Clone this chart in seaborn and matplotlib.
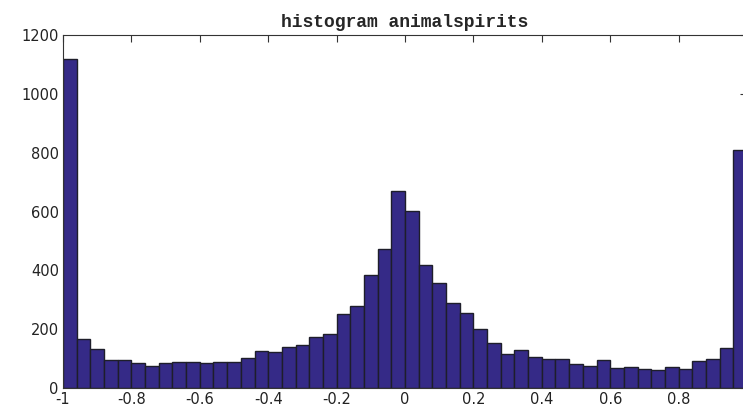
import numpy as np
import pandas as pd
import matplotlib
matplotlib.use("Agg")
import matplotlib.pyplot as plt
import seaborn as sns

# 50 bins from -1 to 1 (width 0.04)
n_bins = 50
bin_range = (-1.0, 1.0)
counts = [1117, 165, 132, 95, 95, 85, 75, 86, 90, 87,
          86, 87, 90, 101, 126, 123, 140, 146, 174, 182,
          250, 279, 385, 471, 671, 603, 419, 358, 289, 254,
          201, 154, 116, 128, 107, 97, 97, 80, 74, 94,
          69, 70, 65, 60, 73, 66, 91, 99, 136, 810]
xticks = [-1, -0.8, -0.6, -0.4, -0.2, 0, 0.2, 0.4, 0.6, 0.8]
xticklabels = ["-1", "-0.8", "-0.6", "-0.4", "-0.2", "0", "0.2", "0.4", "0.6", "0.8"]
yticks = [0, 200, 400, 600, 800, 1000, 1200]
title = "histogram animalspirits"

edges = np.linspace(bin_range[0], bin_range[1], n_bins + 1)
centers = (edges[:-1] + edges[1:]) / 2
df = pd.DataFrame({"x": centers, "count": counts})

sns.set_style("white")
plt.rcParams["font.family"] = ["DejaVu Sans"]

fig = plt.figure(figsize=(7.43, 4.07), dpi=100)
ax = fig.add_axes([63 / 743, 1 - 388 / 407, (747 - 63) / 743, (388 - 35) / 407])

sns.histplot(data=df, x="x", weights="count", bins=n_bins, binrange=bin_range, ax=ax,
             color="#352a87", alpha=1.0, edgecolor="#1e1e2a", linewidth=1.0)

ax.set_xlim(-1, 1)
ax.set_ylim(0, 1200)
ax.set_xticks(xticks)
ax.set_xticklabels(xticklabels)
ax.set_yticks(yticks)
ax.set_xlabel("")
ax.set_ylabel("")
ax.tick_params(direction="in", length=5, width=0.8, color="#333333",
               top=True, right=True, labelsize=10.5, labelcolor="#222222", pad=3)
ax.tick_params(axis="x", pad=3)
for s in ax.spines.values():
    s.set_visible(True)
    s.set_color("#333333")
    s.set_linewidth(0.8)
ax.set_title(title, fontsize=13, family=["Liberation Mono", "DejaVu Sans Mono"],
             fontweight="bold", pad=6)

fig.savefig("out.png", dpi=100)
